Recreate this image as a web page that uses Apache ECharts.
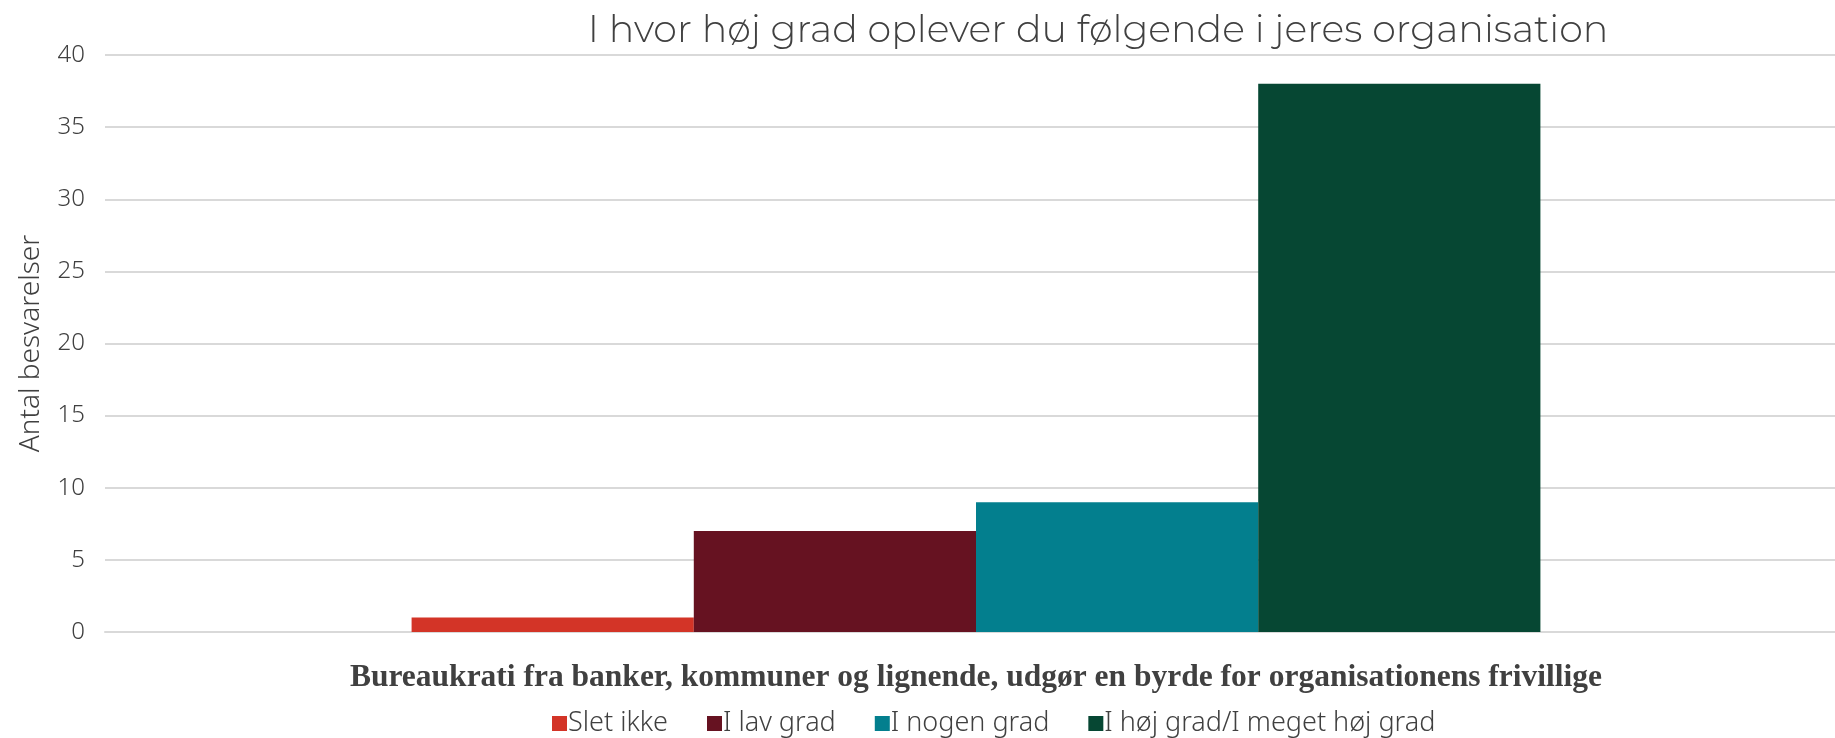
<!DOCTYPE html>
<html>
<head>
<meta charset="utf-8">
<script src="https://cdn.jsdelivr.net/npm/echarts@6/dist/echarts.min.js"></script>
<style>
  html, body { margin: 0; padding: 0; background: #fff; }
  #chart { width: 1835px; height: 738px; }
</style>
</head>
<body>
<div id="chart"></div>
<script>
var categories = ['Bureaukrati fra banker, kommuner og lignende, udgør en byrde for organisationens frivillige'];
var seriesNames = ['Slet ikke', 'I lav grad', 'I nogen grad', 'I høj grad/I meget høj grad'];
var seriesValues = [[1], [7], [9], [38]];
var colors = ['#D33427', '#661221', '#037F8E', '#064733'];

var chart = echarts.init(document.getElementById('chart'));

var series = seriesNames.map(function (name, i) {
	return {
		name: name,
		type: 'bar',
		data: seriesValues[i],
		barGap: '0%',
		barCategoryGap: '35.2%',
		itemStyle: { color: colors[i] }
	};
});

chart.setOption({
	animation: false,
	color: colors,
	title: {
		text: 'I hvor høj grad oplever du følgende i jeres organisation',
		left: 1093,
		top: 7,
		textAlign: 'center',
		textStyle: { fontFamily: 'Montserrat, "Noto Sans", sans-serif', fontWeight: 300, fontSize: 38, color: '#404040' }
	},
	legend: {
		top: 705,
		left: 547,
		itemWidth: 15,
		itemHeight: 15,
		itemGap: 39,
		icon: 'rect',
		textStyle: { fontFamily: '"Noto Sans", sans-serif', fontWeight: 300, fontSize: 27, color: '#404040', padding: [0, 0, 0, -4] },
		data: seriesNames
	},
	grid: { left: 105, right: -12, top: 55, bottom: 106, outerBoundsMode: 'none' },
	xAxis: {
		type: 'category',
		data: categories,
		axisLine: { lineStyle: { color: '#d9d9d9', width: 2 } },
		axisTick: { show: false },
		axisLabel: {
			margin: 30,
			fontFamily: '"Liberation Serif", serif',
			fontWeight: 'bold',
			fontSize: 31.5,
			color: '#404040'
		}
	},
	yAxis: {
		type: 'value',
		min: 0,
		max: 40,
		interval: 5,
		name: 'Antal besvarelser',
		nameLocation: 'middle',
		nameGap: 60,
		nameTextStyle: { fontFamily: '"Noto Sans", sans-serif', fontWeight: 300, fontSize: 28, color: '#404040' },
		axisLine: { show: false },
		axisTick: { show: false },
		axisLabel: { margin: 20, fontFamily: '"Noto Sans", sans-serif', fontWeight: 300, fontSize: 24, color: '#404040' },
		splitLine: { lineStyle: { color: '#d9d9d9', width: 2 } }
	},
	series: series
});
</script>
</body>
</html>
